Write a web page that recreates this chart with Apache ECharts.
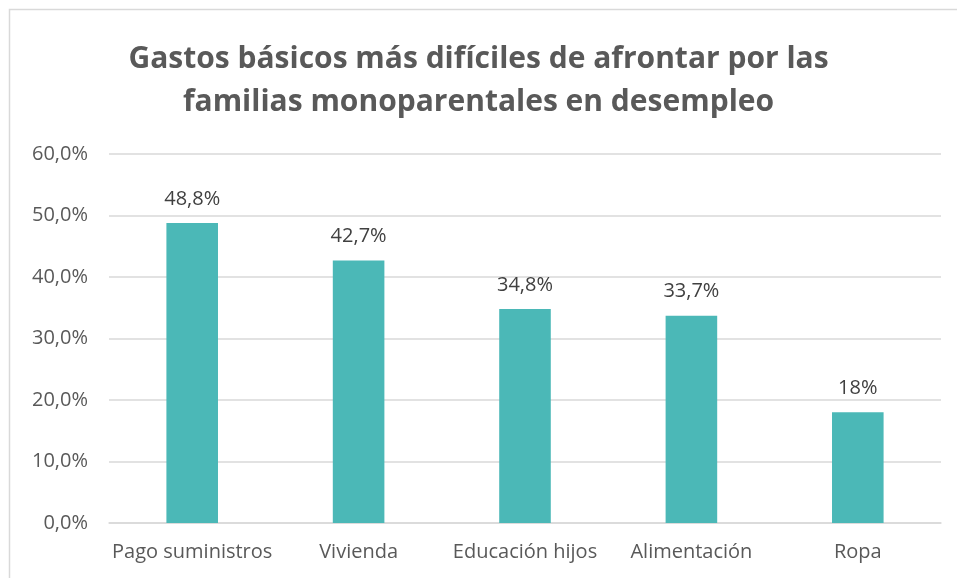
<!DOCTYPE html>
<html>
<head>
<meta charset="utf-8">
<script src="https://cdn.jsdelivr.net/npm/echarts@6/dist/echarts.min.js"></script>
<style>
  html, body { margin: 0; padding: 0; background: #fff; }
  #chart { width: 957px; height: 578px; }
</style>
</head>
<body>
<div id="chart"></div>
<script>
var titleLines = ['Gastos básicos más difíciles de afrontar por las', 'familias monoparentales en desempleo'];
var categories = ['Pago suministros', 'Vivienda', 'Educación hijos', 'Alimentación', 'Ropa'];
var values = [48.8, 42.7, 34.8, 33.7, 18];
var valueLabels = ['48,8%', '42,7%', '34,8%', '33,7%', '18%'];

var font = '"Open Sans", "Noto Sans", sans-serif';
var chart = echarts.init(document.getElementById('chart'));

chart.setOption({
    animation: false,
    title: {
        text: titleLines.join('\n'),
        left: 'center',
        top: 33,
        textStyle: {
            fontFamily: font,
            fontSize: 30,
            fontWeight: 'bold',
            color: '#595959',
            lineHeight: 43
        }
    },
    graphic: [{
        type: 'rect',
        shape: { x: 9.5, y: 9.5, width: 1000, height: 700 },
        style: { fill: 'none', stroke: '#d9d9d9', lineWidth: 1.5 },
        silent: true
    }],
    grid: { left: 109, right: 16, top: 154, bottom: 55, containLabel: false },
    xAxis: {
        type: 'category',
        data: categories,
        axisLine: { show: true, lineStyle: { color: '#d9d9d9', width: 1.5 } },
        axisTick: { show: false },
        axisLabel: { interval: 0, fontFamily: font, fontSize: 20, color: '#595959', margin: 19 }
    },
    yAxis: {
        type: 'value',
        min: 0,
        max: 60,
        interval: 10,
        axisLine: { show: false },
        axisTick: { show: false },
        splitLine: { lineStyle: { color: '#d9d9d9', width: 1.5 } },
        axisLabel: {
            fontFamily: font, fontSize: 20, color: '#595959', margin: 21,
            formatter: function (v) { return v.toFixed(1).replace('.', ',') + '%'; }
        }
    },
    series: [{
        type: 'bar',
        data: values,
        barWidth: '31%',
        itemStyle: { color: '#4bb8b7' },
        label: {
            show: true,
            position: 'top',
            distance: 14,
            fontFamily: font,
            fontSize: 20,
            color: '#404040',
            formatter: function (p) { return valueLabels[p.dataIndex]; }
        }
    }]
});
</script>
</body>
</html>
